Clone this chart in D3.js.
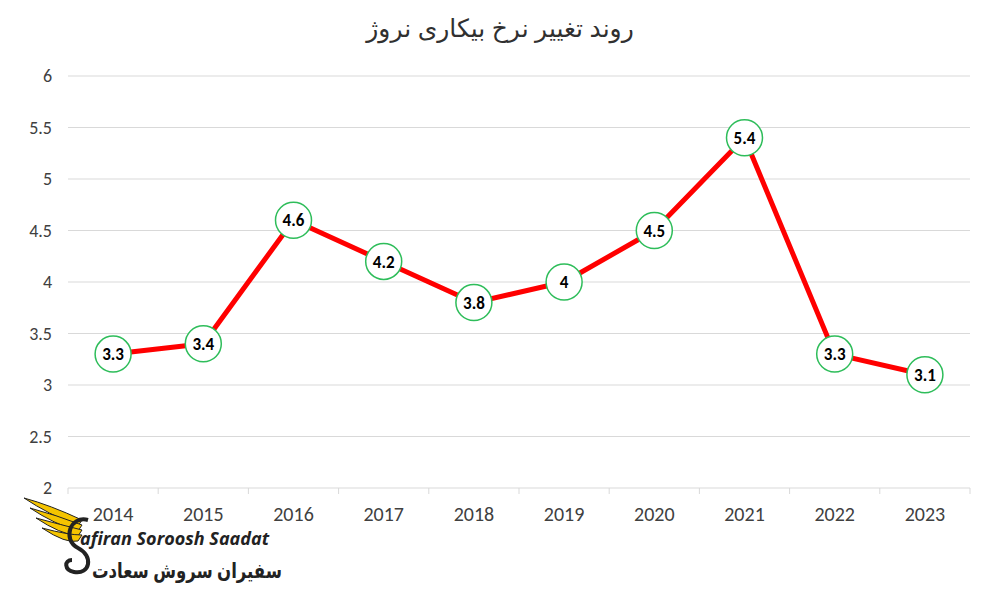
<!DOCTYPE html>
<html><head><meta charset="utf-8">
<script src="https://cdn.jsdelivr.net/npm/d3@7"></script>
<style>body{margin:0;background:#fff}svg{display:block}</style>
</head><body>
<svg id="c" width="1000" height="600"></svg>
<script>
const years = ["2014","2015","2016","2017","2018","2019","2020","2021","2022","2023"];
const rates = [3.3, 3.4, 4.6, 4.2, 3.8, 4, 4.5, 5.4, 3.3, 3.1];
const yTicks = [2, 2.5, 3, 3.5, 4, 4.5, 5, 5.5, 6];
const title = "روند تغییر نرخ بیکاری نروژ";

const svg = d3.select("#c");
const plotLeft = 68, plotRight = 970, plotTop = 76, plotBottom = 488;
const x = d3.scaleBand().domain(years).range([plotLeft, plotRight]);
const y = d3.scaleLinear().domain([2, 6]).range([plotBottom, plotTop]);
const font = "Calibri, Carlito, 'Open Sans', sans-serif";

// grid
svg.append("g").selectAll("line").data(yTicks.slice(1)).enter().append("line")
  .attr("x1", plotLeft).attr("x2", plotRight)
  .attr("y1", d => y(d)).attr("y2", d => y(d))
  .attr("stroke", "#d9d9d9").attr("stroke-width", 1);

// y axis labels
svg.append("g").attr("transform", `translate(${plotLeft},0)`)
  .call(d3.axisLeft(y).tickValues(yTicks).tickSize(0).tickPadding(16).tickFormat(d3.format("")))
  .call(g => g.select(".domain").remove())
  .call(g => g.selectAll("text").attr("font-family", font).attr("font-size", 18).attr("fill", "#404040"));

// x axis
svg.append("line").attr("x1", plotLeft).attr("x2", plotRight).attr("y1", plotBottom).attr("y2", plotBottom).attr("stroke", "#d9d9d9");
svg.append("g").selectAll("line").data(years.concat(["end"])).enter().append("line")
  .attr("x1", (d, i) => plotLeft + i * x.step()).attr("x2", (d, i) => plotLeft + i * x.step())
  .attr("y1", plotBottom).attr("y2", plotBottom + 6).attr("stroke", "#d9d9d9");
svg.append("g").attr("transform", `translate(0,${plotBottom})`)
  .call(d3.axisBottom(x).tickSize(0).tickPadding(19))
  .call(g => g.select(".domain").remove())
  .call(g => g.selectAll("text").attr("font-family", font).attr("font-size", 20).attr("fill", "#404040"));

// title
svg.append("text").attr("x", 500).attr("y", 37).attr("text-anchor", "middle")
  .attr("font-family", "'Noto Sans', 'DejaVu Sans', sans-serif").attr("font-size", 25).attr("fill", "#303030")
  .attr("direction", "rtl").text(title);

// line
const cx = d => x(d) + x.bandwidth() / 2;
svg.append("path").datum(rates)
  .attr("d", d3.line().x((d, i) => cx(years[i])).y(d => y(d)))
  .attr("fill", "none").attr("stroke", "#ff0000").attr("stroke-width", 5).attr("stroke-linejoin", "round");

const pts = svg.append("g").selectAll("g").data(rates).enter().append("g")
  .attr("transform", (d, i) => `translate(${cx(years[i])},${y(d)})`);
pts.append("circle").attr("r", 18).attr("fill", "#fff").attr("stroke", "#2ebd5a").attr("stroke-width", 1.5);
pts.append("text").attr("text-anchor", "middle").attr("dy", "0.36em")
  .attr("font-family", font).attr("font-weight", "bold").attr("font-size", 17).attr("fill", "#000")
  .text(d => d);

// logo
const logo = svg.append("g");
[[0,0],[6,10],[12,20],[18,30]].forEach(([dx, dy]) => {
  logo.append("path")
    .attr("d", `M${24+dx},${498+dy} Q${50+dx},${505+dy} ${82},${520+dy/2} L${78},${526+dy/2} Q${48+dx},${514+dy} ${24+dx},${498+dy}Z`)
    .attr("fill", "#f5c400").attr("stroke", "#222").attr("stroke-width", 1);
});
logo.append("path").attr("d", "M88,520 C70,515 62,540 78,548 C94,556 90,575 74,572 C64,570 64,560 72,560")
  .attr("fill", "none").attr("stroke", "#222").attr("stroke-width", 4);
logo.append("text").attr("x", 80).attr("y", 545)
  .attr("font-family", "'Open Sans', sans-serif").attr("font-weight", "bold").attr("font-style", "italic")
  .attr("font-size", 18).attr("fill", "#222").text("afiran Soroosh Saadat");
logo.append("text").attr("x", 282).attr("y", 578).attr("text-anchor", "start").attr("direction", "rtl")
  .attr("font-family", "'Noto Sans', 'DejaVu Sans', sans-serif").attr("font-weight", "bold")
  .attr("textLength", 190).attr("lengthAdjust", "spacingAndGlyphs")
  .attr("font-size", 21).attr("fill", "#222").text("سفیران سروش سعادت");
</script>
</body></html>
